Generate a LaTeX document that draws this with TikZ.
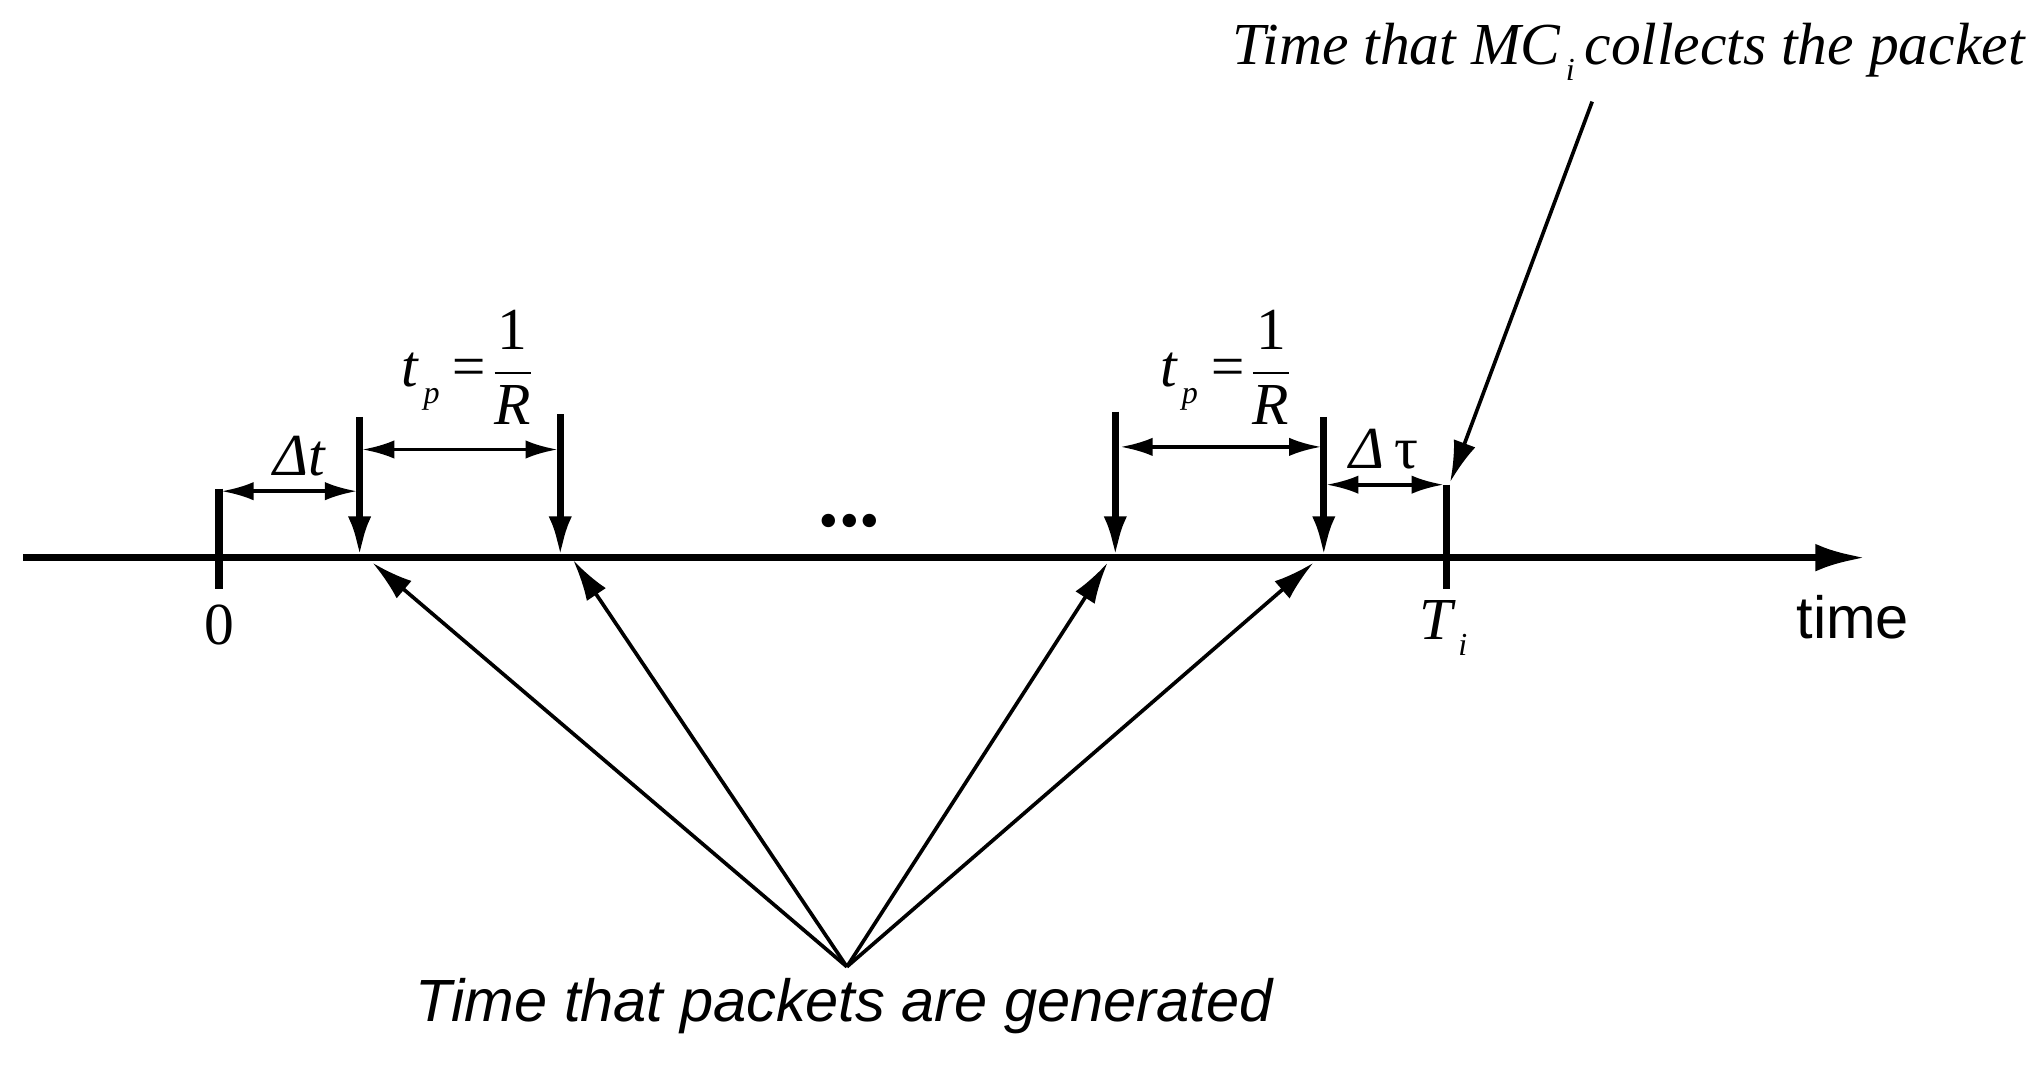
\documentclass[tikz,border=0pt]{standalone}
\usepackage{fontspec}
\setmainfont{Liberation Serif}
\newfontfamily\sansf{Liberation Sans}
\usetikzlibrary{arrows.meta}
\begin{document}
\begin{tikzpicture}[x=0.01cm,y=-0.01cm,
  thick/.style={line width=1.6pt},
  tip/.style={-{Latex[length=9pt,width=5pt]}},
  dbl/.style={{Latex[length=7pt,width=4pt]}-{Latex[length=7pt,width=4pt]},line width=0.8pt},
  thin/.style={line width=0.8pt,-{Latex[length=9pt,width=5pt]}},
  lbl/.style={font=\fontsize{13pt}{15pt}\selectfont\itshape}]
\useasboundingbox (0,0) rectangle (1568,819);
% axis
\coordinate (a0) at (18,428); \coordinate (a1) at (1432,428);
\draw[thick,-{Latex[length=11pt,width=6pt]}] (a0) -- (a1);
\coordinate (z0) at (168,375); \coordinate (z1) at (168,452);
\draw[thick] (z0) -- (z1);
\node[font=\fontsize{13pt}{15pt}\selectfont] (zl) at (168,480) {0};
\coordinate (t0) at (1110,372); \coordinate (t1) at (1110,452);
\draw[thick] (t0) -- (t1);
\node[lbl] (tl) at (1108,482) {T\raisebox{-0.6ex}{\scriptsize\,i}};
% down arrows
\foreach \n/\x/\y in {p1/276/320,p2/430/318,p3/856/316,p4/1016/320}{
  \coordinate (\n t) at (\x,\y); \coordinate (\n) at (\x,428);
  \draw[thick,tip] (\n t) -- (\n);}
% intervals
\coordinate (d0) at (170,377); \coordinate (d1) at (274,377);
\draw[dbl] (d0) -- (d1);
\node[lbl] (dl) at (230,350) {Δt};
\coordinate (e0) at (278,345); \coordinate (e1) at (428,345);
\draw[dbl] (e0) -- (e1);
\node[lbl] (el) at (360,282) {t\raisebox{-0.6ex}{\scriptsize\,p}$\,$=$\displaystyle\frac{\mbox{\upshape 1}}{\mbox{\itshape R}}$};
\coordinate (f0) at (860,343); \coordinate (f1) at (1014,343);
\draw[dbl] (f0) -- (f1);
\node[lbl] (fl) at (942,282) {t\raisebox{-0.6ex}{\scriptsize\,p}$\,$=$\displaystyle\frac{\mbox{\upshape 1}}{\mbox{\itshape R}}$};
\coordinate (g0) at (1018,372); \coordinate (g1) at (1108,372);
\draw[dbl] (g0) -- (g1);
\node[lbl] (gl) at (1062,345) {Δ\,\upshape τ};
\node[font=\fontsize{18pt}{18pt}\selectfont\bfseries] (dots) at (652,400) {...};
\node[font=\fontsize{13pt}{15pt}\selectfont\sansf] (time) at (1422,474) {time};
% bottom
\node[font=\fontsize{13pt}{15pt}\selectfont\sansf\itshape] (gen) at (648,772) {Time that packets are generated};
\coordinate (b) at (650,742);
\foreach \x/\y in {286/432,440/430,850/432,1008/432}{
  \draw[thin] (b) -- (\x,\y);}
% top
\node[lbl] (top) at (1250,40) {Time that MC\raisebox{-0.6ex}{\scriptsize\,i}\,collects the packet};
\coordinate (c0) at (1222,78); \coordinate (c1) at (1113,370);
\draw[thin] (c0) -- (c1);
\end{tikzpicture}
\end{document}
